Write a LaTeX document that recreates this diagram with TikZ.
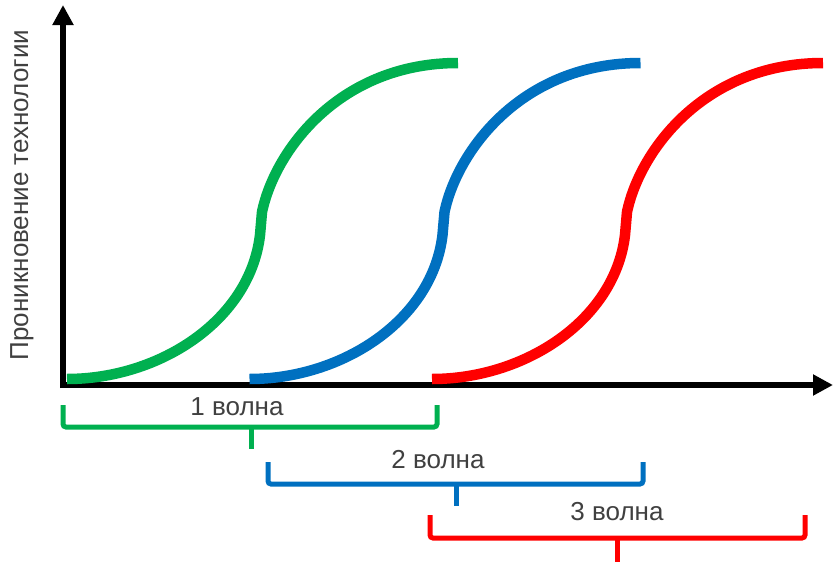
\documentclass[tikz,border=0pt]{standalone}
\usepackage{fontspec}
\setmainfont{Liberation Sans}
\usetikzlibrary{arrows.meta}
\definecolor{wavegreen}{RGB}{0,176,80}
\definecolor{waveblue}{RGB}{0,112,192}
\definecolor{wavered}{RGB}{255,0,0}
\definecolor{labelgray}{RGB}{64,64,64}
\tikzstyle{every node}=[text=labelgray,font=\fontsize{26}{30}\selectfont]
\tikzstyle{axis}=[line width=5.5pt,-{Triangle[length=20pt,width=20pt]}]
\tikzstyle{wave}=[line width=10.5pt,line join=round]
\tikzstyle{brace}=[line width=5pt,rounded corners=3pt]

\begin{document}
\begin{tikzpicture}[x=1pt,y=-1pt]
  \useasboundingbox (0,0) rectangle (833,562);
  % axes
  \coordinate (origin) at (63,385);
  \draw[axis] (63,388) -- (63,5);
  \draw[axis] (60,385) -- (833,385);
  \node (ylabel) at (22,195) [rotate=90] {Проникновение технологии};
  % three waves, same curve shifted
  \foreach \dx/\col in {0/wavegreen,182.5/waveblue,365/wavered}
    \draw[wave,\col,xshift=\dx pt] (67,379) .. controls (160,379) and (250,320) .. (260,235)
      -- (262,212) .. controls (275,150) and (340,63) .. (458,63);
  % brackets
  \draw[brace,wavegreen] (63,405) |- (437,427) -- (437,405);
  \draw[brace,wavegreen] (251,427) -- (251,449);
  \draw[brace,waveblue] (268,462) |- (643,484) -- (643,462);
  \draw[brace,waveblue] (456,484) -- (456,506);
  \draw[brace,wavered] (430,515) |- (805,538) -- (805,515);
  \draw[brace,wavered] (617,538) -- (617,562);
  \node (wave1) at (237,407) {1 волна};
  \node (wave2) at (438,460) {2 волна};
  \node (wave3) at (617,512) {3 волна};
\end{tikzpicture}
\end{document}
